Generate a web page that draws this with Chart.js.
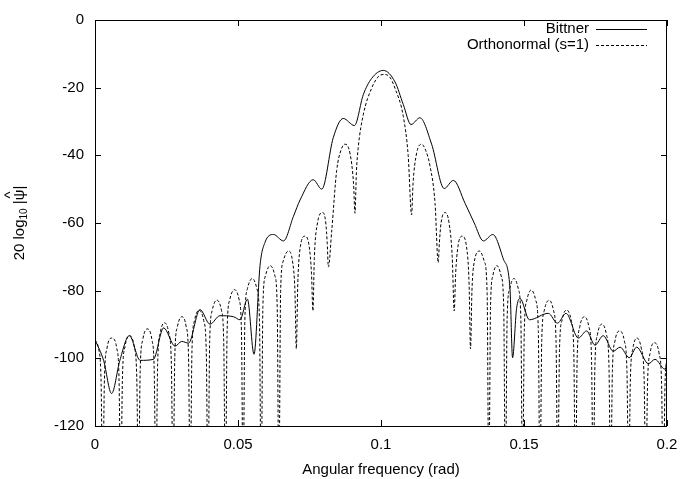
<!DOCTYPE html>
<html>
<head>
<meta charset="utf-8">
<script src="https://cdn.jsdelivr.net/npm/chart.js@4.4.1/dist/chart.umd.min.js"></script>
<style>
	html, body { margin: 0; padding: 0; background: #fff; }
	canvas { display: block; }
</style>
</head>
<body>
<canvas id="chart" width="690" height="479"></canvas>
<script>
// Values: [frequency (rad), 20 log10 |psi hat| (dB)].
// -140 marks a null that drops below the bottom of the plot.
const seriesNames = [ 'Bittner', 'Orthonormal (s=1)' ];
const xTickLabels = [ '0', '0.05', '0.1', '0.15', '0.2' ];
const yTickLabels = [ '-120', '-100', '-80', '-60', '-40', '-20', '0' ];

const bittner = [
	[ 0, -94.5 ], [ 0.0030, -100.6 ], [ 0.0058, -110.4 ], [ 0.0087, -100.6 ], [ 0.0120, -93.3 ],
	[ 0.0158, -100.6 ], [ 0.0204, -100.3 ], [ 0.0240, -91.0 ], [ 0.0280, -96.4 ], [ 0.0303, -95.0 ],
	[ 0.0327, -95.5 ], [ 0.0367, -85.6 ], [ 0.0402, -89.9 ], [ 0.0437, -87.4 ], [ 0.0484, -87.7 ],
	[ 0.0507, -88.6 ], [ 0.0533, -82.5 ], [ 0.0556, -98.8 ], [ 0.0577, -72.6 ], [ 0.0594, -65.8 ],
	[ 0.0624, -63.4 ], [ 0.0659, -65.3 ], [ 0.0694, -58.0 ], [ 0.0717, -53.2 ], [ 0.0763, -47.2 ],
	[ 0.0793, -50.0 ], [ 0.0833, -34.8 ], [ 0.0868, -29.1 ], [ 0.0907, -31.2 ], [ 0.0938, -22.1 ],
	[ 0.0967, -17.3 ], [ 0.1008, -14.9 ], [ 0.1049, -18.3 ], [ 0.1078, -25.0 ], [ 0.1105, -30.9 ],
	[ 0.1136, -28.9 ], [ 0.1177, -36.7 ], [ 0.1221, -49.8 ], [ 0.1253, -47.4 ], [ 0.1294, -54.2 ],
	[ 0.1326, -60.0 ], [ 0.1358, -65.3 ], [ 0.1391, -63.4 ], [ 0.1428, -70.7 ], [ 0.1451, -79.4 ],
	[ 0.1460, -99.8 ], [ 0.1474, -85.3 ], [ 0.1486, -82.3 ], [ 0.1519, -88.6 ], [ 0.1585, -86.7 ],
	[ 0.1617, -89.6 ], [ 0.1647, -86.7 ], [ 0.1690, -94.0 ], [ 0.1719, -91.9 ], [ 0.1748, -96.1 ],
	[ 0.1777, -93.3 ], [ 0.1812, -97.9 ], [ 0.1836, -96.7 ], [ 0.1868, -99.8 ], [ 0.1894, -96.7 ],
	[ 0.1935, -101.6 ], [ 0.1958, -100.3 ], [ 0.1993, -103.2 ], [ 0.2, -101.3 ],
];

const orthonormal = [
	[ 0, -94.5 ], [ 0.0012, -97 ], [ 0.0021, -106 ], [ 0.0027, -140 ],
	[ 0.0033, -106 ], [ 0.0042, -97 ], [ 0.0059, -94 ], [ 0.0076, -97 ], [ 0.0084, -106 ], [ 0.0090, -140 ],
	[ 0.0096, -105.5 ], [ 0.0105, -96.5 ], [ 0.0121, -93.3 ], [ 0.0137, -96.5 ], [ 0.0146, -105.5 ], [ 0.0152, -140 ],
	[ 0.0158, -103.5 ], [ 0.0167, -94.5 ], [ 0.0183, -91.3 ], [ 0.0199, -94.5 ], [ 0.0207, -103.5 ], [ 0.0213, -140 ],
	[ 0.0219, -101.5 ], [ 0.0228, -92.5 ], [ 0.0243, -89.5 ], [ 0.0258, -92.5 ], [ 0.0267, -101.5 ], [ 0.0273, -140 ],
	[ 0.0279, -99.5 ], [ 0.0288, -90.7 ], [ 0.0304, -87.7 ], [ 0.0319, -90.7 ], [ 0.0327, -99.5 ], [ 0.0333, -140 ],
	[ 0.0339, -97.8 ], [ 0.0348, -88.8 ], [ 0.0364, -85.8 ], [ 0.0380, -88.8 ], [ 0.0389, -97.8 ], [ 0.0395, -140 ],
	[ 0.0401, -94.8 ], [ 0.0410, -85.8 ], [ 0.0426, -82.8 ], [ 0.0442, -85.8 ], [ 0.0450, -94.8 ], [ 0.0456, -140 ],
	[ 0.0462, -91.7 ], [ 0.0471, -82.7 ], [ 0.0488, -79.7 ], [ 0.0504, -82.7 ], [ 0.0512, -91.7 ], [ 0.0518, -140 ],
	[ 0.0524, -88.4 ], [ 0.0533, -79.4 ], [ 0.0550, -76.4 ], [ 0.0566, -79.4 ], [ 0.0575, -88.4 ], [ 0.0581, -140 ],
	[ 0.0587, -84.6 ], [ 0.0596, -75.6 ], [ 0.0613, -72.6 ], [ 0.0629, -75.6 ], [ 0.0637, -84.6 ], [ 0.0643, -140 ],
	[ 0.0649, -80.3 ], [ 0.0658, -71.3 ], [ 0.0676, -68.3 ], [ 0.0691, -71.5 ], [ 0.0699, -80 ], [ 0.0704, -97.2 ],
	[ 0.0709, -78 ], [ 0.0718, -67 ], [ 0.0734, -63.9 ], [ 0.0749, -67 ], [ 0.0757, -75 ], [ 0.0762, -86 ],
	[ 0.0767, -70 ], [ 0.0778, -60 ], [ 0.0796, -56.9 ], [ 0.0807, -60 ], [ 0.0812, -66 ], [ 0.0816, -73 ],
	[ 0.0828, -62 ], [ 0.0845, -44.5 ], [ 0.0860, -38.5 ], [ 0.0874, -36.7 ], [ 0.0892, -39.6 ], [ 0.0904, -48.4 ], [ 0.0909, -57.1 ],
	[ 0.0914, -45 ], [ 0.0920, -38 ], [ 0.0938, -28 ], [ 0.0967, -20.2 ], [ 0.0990, -16.8 ], [ 0.1010, -16.1 ],
	[ 0.1030, -16.8 ], [ 0.1049, -20.2 ], [ 0.1078, -28.5 ], [ 0.1095, -40 ], [ 0.1107, -57.6 ],
	[ 0.1112, -48.4 ], [ 0.1124, -39.6 ], [ 0.1142, -36.7 ], [ 0.1156, -38.5 ], [ 0.1171, -43 ], [ 0.1189, -54.2 ], [ 0.1200, -71.7 ],
	[ 0.1204, -66 ], [ 0.1210, -60 ], [ 0.1224, -56.9 ], [ 0.1238, -60 ], [ 0.1249, -70 ], [ 0.1256, -86 ],
	[ 0.1261, -75 ], [ 0.1269, -67 ], [ 0.1284, -63.9 ], [ 0.1299, -67 ], [ 0.1308, -78 ], [ 0.1313, -97.2 ],
	[ 0.1318, -80 ], [ 0.1326, -71.5 ], [ 0.1345, -68.3 ], [ 0.1361, -71.3 ], [ 0.1371, -80.3 ], [ 0.1377, -140 ],
	[ 0.1383, -84.6 ], [ 0.1391, -75.6 ], [ 0.1405, -72.6 ], [ 0.1420, -75.6 ], [ 0.1429, -84.6 ], [ 0.1435, -140 ],
	[ 0.1441, -88.4 ], [ 0.1450, -79.4 ], [ 0.1465, -76.4 ], [ 0.1480, -79.4 ], [ 0.1489, -88.4 ], [ 0.1495, -140 ],
	[ 0.1501, -91.8 ], [ 0.1510, -82.8 ], [ 0.1525, -79.8 ], [ 0.1541, -82.8 ], [ 0.1550, -91.8 ], [ 0.1556, -140 ],
	[ 0.1562, -94.8 ], [ 0.1571, -85.8 ], [ 0.1588, -82.8 ], [ 0.1603, -85.8 ], [ 0.1612, -94.8 ], [ 0.1618, -140 ],
	[ 0.1624, -97.7 ], [ 0.1633, -88.7 ], [ 0.1649, -85.7 ], [ 0.1665, -88.7 ], [ 0.1674, -97.7 ], [ 0.1680, -140 ],
	[ 0.1686, -99.7 ], [ 0.1695, -90.7 ], [ 0.1711, -87.7 ], [ 0.1727, -90.7 ], [ 0.1736, -99.7 ], [ 0.1742, -140 ],
	[ 0.1748, -101.9 ], [ 0.1757, -92.9 ], [ 0.1772, -89.9 ], [ 0.1788, -92.9 ], [ 0.1797, -101.9 ], [ 0.1803, -140 ],
	[ 0.1809, -103.9 ], [ 0.1818, -94.9 ], [ 0.1835, -91.9 ], [ 0.1851, -94.9 ], [ 0.1860, -103.9 ], [ 0.1866, -140 ],
	[ 0.1872, -106 ], [ 0.1881, -97 ], [ 0.1895, -94 ], [ 0.1910, -97 ], [ 0.1920, -106 ], [ 0.1926, -140 ],
	[ 0.1932, -107.4 ], [ 0.1941, -98.4 ], [ 0.1956, -95.4 ], [ 0.1972, -98.4 ], [ 0.1981, -107.4 ], [ 0.1987, -140 ],
	[ 0.1993, -108 ], [ 0.2, -99.8 ],
];

const FONT = '"Liberation Sans", Arial, Helvetica, sans-serif';
Chart.defaults.font.family = FONT;
Chart.defaults.font.size = 15;
Chart.defaults.color = '#000';

const toPoints = ( rows ) => rows.map( ( [ x, y ] ) => ( { x, y } ) );

// gnuplot look: closed box, inward ticks on all four sides, key top right, y label with subscript.
const gnuplotFrame = {
	id: 'gnuplotFrame',
	afterDraw( chart ) {
		const { ctx, chartArea: a, scales } = chart;
		const tick = 6;
		ctx.save();
		ctx.strokeStyle = '#000';
		ctx.lineWidth = 1;
		ctx.setLineDash( [] );
		ctx.strokeRect( a.left + 0.5, a.top + 0.5, a.right - a.left - 1, a.bottom - a.top );
		ctx.beginPath();
		scales.x.ticks.forEach( ( t ) => {
			const px = Math.round( scales.x.getPixelForValue( t.value ) ) + 0.5;
			ctx.moveTo( px, a.bottom ); ctx.lineTo( px, a.bottom - tick );
			ctx.moveTo( px, a.top ); ctx.lineTo( px, a.top + tick );
		} );
		scales.y.ticks.forEach( ( t ) => {
			const py = Math.round( scales.y.getPixelForValue( t.value ) ) + 0.5;
			ctx.moveTo( a.left, py ); ctx.lineTo( a.left + tick, py );
			ctx.moveTo( a.right, py ); ctx.lineTo( a.right - tick, py );
		} );
		ctx.stroke();

		// Key.
		ctx.font = '15px ' + FONT;
		ctx.textAlign = 'right';
		ctx.textBaseline = 'middle';
		chart.data.datasets.forEach( ( ds, i ) => {
			const y = 29 + i * 15.5;
			ctx.fillStyle = '#000';
			ctx.fillText( ds.label, 589, y );
			ctx.strokeStyle = ds.borderColor;
			ctx.lineWidth = ds.borderWidth;
			ctx.setLineDash( ds.borderDash || [] );
			ctx.beginPath();
			ctx.moveTo( 596, Math.round( y ) + 0.5 );
			ctx.lineTo( 647, Math.round( y ) + 0.5 );
			ctx.stroke();
		} );

		// Y axis label: 20 log10 |psi hat|, subscript smaller, hat set over the psi.
		ctx.setLineDash( [] );
		ctx.translate( 20, ( a.top + a.bottom ) / 2 );
		ctx.rotate( -Math.PI / 2 );
		ctx.textAlign = 'left';
		ctx.fillStyle = '#000';
		const big = '15px ' + FONT, small = '10px ' + FONT;
		const p1 = '20 log', p2 = '10', p3 = ' |', psi = '\u03C8', p5 = '|';
		ctx.font = big;
		const w1 = ctx.measureText( p1 ).width, w3 = ctx.measureText( p3 ).width;
		const wp = ctx.measureText( psi ).width, w5 = ctx.measureText( p5 ).width;
		ctx.font = small; const w2 = ctx.measureText( p2 ).width;
		let x0 = -( w1 + w2 + w3 + wp + w5 ) / 2;
		ctx.font = big; ctx.fillText( p1, x0, 0 ); x0 += w1;
		ctx.font = small; ctx.fillText( p2, x0, 4 ); x0 += w2;
		ctx.font = big; ctx.fillText( p3, x0, 0 ); x0 += w3;
		ctx.fillText( psi, x0, 0 );
		ctx.textAlign = 'center';
		ctx.fillText( '^', x0 + wp / 2, -9 );
		ctx.textAlign = 'left';
		x0 += wp;
		ctx.fillText( p5, x0, 0 );
		ctx.restore();
	},
};

new Chart( document.getElementById( 'chart' ), {
	type: 'scatter',
	data: {
		datasets: [
			{ label: seriesNames[ 0 ], data: toPoints( bittner ), borderColor: '#000', borderWidth: 1 },
			{ label: seriesNames[ 1 ], data: toPoints( orthonormal ), borderColor: '#000', borderWidth: 1, borderDash: [ 3, 2 ] },
		].map( ( ds ) => Object.assign( ds, { showLine: true, pointRadius: 0, cubicInterpolationMode: 'monotone' } ) ),
	},
	plugins: [ gnuplotFrame ],
	options: {
		responsive: false,
		animation: false,
		devicePixelRatio: 1,
		layout: { padding: { top: 14, right: 23, left: 0, bottom: 0 } },
		plugins: { legend: { display: false }, tooltip: { enabled: false } },
		scales: {
			x: {
				type: 'linear', min: 0, max: 0.2,
				grid: { display: false, drawTicks: false },
				border: { display: false },
				ticks: { stepSize: 0.05, padding: 10, maxRotation: 0, autoSkip: false, callback: ( v, i ) => xTickLabels[ i ] },
				title: { display: true, text: 'Angular frequency (rad)', padding: { top: 3, bottom: 0 }, font: { size: 15 } },
				afterFit: ( s ) => { s.height = 53; },
			},
			y: {
				type: 'linear', min: -120, max: 0,
				grid: { display: false, drawTicks: false },
				border: { display: false },
				ticks: { stepSize: 20, padding: 11, autoSkip: false, callback: ( v, i ) => yTickLabels[ i ] },
				afterFit: ( s ) => { s.width = 95; },
			},
		},
	},
} );
</script>
</body>
</html>
